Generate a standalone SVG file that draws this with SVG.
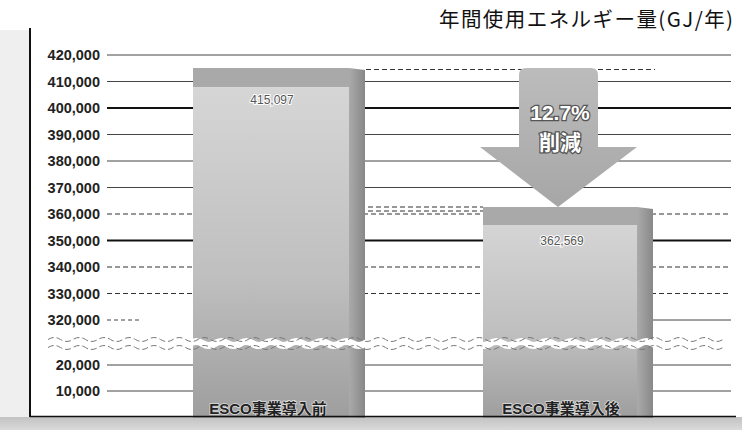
<svg xmlns="http://www.w3.org/2000/svg" xmlns:xlink="http://www.w3.org/1999/xlink" width="742" height="430" viewBox="0 0 742 430">
<style>
.tick{font-family:"Liberation Sans","Noto Sans CJK JP",sans-serif;font-size:14.5px;font-weight:bold;fill:#222;text-anchor:end}
.grid{stroke:#444;stroke-width:1;fill:none}
.major{stroke:#111;stroke-width:2;fill:none}
.dash{stroke:#333;stroke-width:1.2;stroke-dasharray:5 3;fill:none}
.title{font-family:"Noto Sans CJK JP",sans-serif;font-size:20.5px;fill:#111}
.val{font-family:"Liberation Sans",sans-serif;font-size:12px;fill:#555;text-anchor:middle;stroke:#fff;stroke-width:2;paint-order:stroke}
.cat{font-family:"Liberation Sans","Noto Sans CJK JP",sans-serif;font-size:15px;font-weight:bold;fill:#222;text-anchor:middle;stroke:#ddd;stroke-width:1.5;paint-order:stroke}
.arrowtxt{font-family:"Liberation Sans","Noto Sans CJK JP",sans-serif;font-size:21px;font-weight:bold;fill:#fff;text-anchor:middle;stroke:#555;stroke-width:2.5;paint-order:stroke}
</style>
<defs>
<linearGradient id="face" x1="0" y1="0" x2="0" y2="1">
<stop offset="0" stop-color="#d8d8d8"/>
<stop offset="0.6" stop-color="#bfbfbf"/>
<stop offset="1" stop-color="#9e9e9e"/>
</linearGradient>
<linearGradient id="side" x1="0" y1="0" x2="1" y2="0">
<stop offset="0" stop-color="#aaaaaa"/>
<stop offset="1" stop-color="#888888"/>
</linearGradient>
<linearGradient id="floor" x1="0" y1="0" x2="0" y2="1">
<stop offset="0" stop-color="#c2c2c2"/>
<stop offset="1" stop-color="#dadada"/>
</linearGradient>
<linearGradient id="arrowfill" x1="0" y1="0" x2="0" y2="1">
<stop offset="0" stop-color="#bcbcbc"/>
<stop offset="1" stop-color="#a6a6a6"/>
</linearGradient>
<path id="wave" d="M0,0 q6.25,-4 12.5,0 t12.5,0 t12.5,0 t12.5,0 t12.5,0 t12.5,0 t12.5,0 t12.5,0 t12.5,0 t12.5,0 t12.5,0 t12.5,0 t12.5,0 t12.5,0 t12.5,0 t12.5,0 t12.5,0 t12.5,0 t12.5,0 t12.5,0 t12.5,0 t12.5,0 t12.5,0 t12.5,0 t12.5,0 t12.5,0 t12.5,0 t12.5,0 t12.5,0 t12.5,0 t12.5,0 t12.5,0 t12.5,0 t12.5,0 t12.5,0 t12.5,0 t12.5,0 t12.5,0 t12.5,0 t12.5,0 t12.5,0 t12.5,0 t12.5,0 t12.5,0 t12.5,0 t12.5,0 t12.5,0 t12.5,0 t12.5,0 t12.5,0 t12.5,0 t12.5,0 t12.5,0 t12.5,0"/>
</defs>

<rect x="0" y="0" width="742" height="430" fill="#fff"/>
<rect x="0" y="30" width="29" height="400" fill="#efefef"/>
<rect x="0" y="417" width="742" height="13" fill="url(#floor)"/>

<g id="title"><text class="title" x="439" y="27" textLength="294" lengthAdjust="spacing">年間使用エネルギー量(GJ/年)</text></g>

<g id="gridlines">
<line class="grid" x1="107" y1="55" x2="731" y2="55"/>
<line class="grid" x1="107" y1="81.5" x2="731" y2="81.5"/>
<line class="major" x1="107" y1="108" x2="731" y2="108"/>
<line class="grid" x1="107" y1="134.5" x2="731" y2="134.5"/>
<line class="grid" x1="107" y1="161" x2="731" y2="161"/>
<line class="grid" x1="107" y1="187.5" x2="731" y2="187.5"/>
<line class="dash" x1="107" y1="214" x2="731" y2="214"/>
<line class="major" x1="107" y1="240.5" x2="731" y2="240.5"/>
<line class="dash" x1="107" y1="267" x2="731" y2="267"/>
<line class="dash" x1="107" y1="293.5" x2="731" y2="293.5"/>
<line class="grid" x1="107" y1="320" x2="140" y2="320" stroke-dasharray="4 3"/>
<line class="grid" x1="651" y1="320" x2="731" y2="320"/>
<line class="grid" x1="107" y1="365" x2="731" y2="365"/>
<line class="grid" x1="107" y1="391" x2="731" y2="391"/>
</g>

<g id="ticks">
<text class="tick" x="100" y="60">420,000</text>
<text class="tick" x="100" y="86.5">410,000</text>
<text class="tick" x="100" y="113">400,000</text>
<text class="tick" x="100" y="139.5">390,000</text>
<text class="tick" x="100" y="166">380,000</text>
<text class="tick" x="100" y="192.5">370,000</text>
<text class="tick" x="100" y="219">360,000</text>
<text class="tick" x="100" y="245.5">350,000</text>
<text class="tick" x="100" y="272">340,000</text>
<text class="tick" x="100" y="298.5">330,000</text>
<text class="tick" x="100" y="325">320,000</text>
<text class="tick" x="100" y="370">20,000</text>
<text class="tick" x="100" y="396">10,000</text>
</g>

<g id="bar-before">
<rect x="193" y="68" width="156" height="350" fill="url(#face)"/>
<rect x="193" y="68" width="156" height="19" fill="#a9a9a9"/>
<polygon points="349,68 365,70 365,418 349,418" fill="url(#side)"/>
<text class="val" x="272" y="104">415,097</text>
<text class="cat" x="268" y="414">ESCO事業導入前</text>
</g>

<g id="bar-after">
<rect x="483" y="207" width="154" height="211" fill="url(#face)"/>
<rect x="483" y="207" width="154" height="18" fill="#a9a9a9"/>
<polygon points="637,207 653,209 653,418 637,418" fill="url(#side)"/>
<text class="val" x="562" y="245">362,569</text>
<text class="cat" x="561" y="414">ESCO事業導入後</text>
</g>

<g id="connectors">
<line class="dash" x1="366" y1="69.5" x2="655" y2="69.5"/>
<line class="dash" x1="368" y1="207" x2="483" y2="207"/>
<line class="dash" x1="368" y1="211" x2="483" y2="211"/>
</g>

<g id="arrow">
<path d="M519,75 Q519,68 526,68 L591,68 Q598,68 598,75 L598,147 L637,147 L558,207 L480,147 L519,147 Z" fill="url(#arrowfill)"/>
<text class="arrowtxt" x="560" y="120">12.7%</text>
<text class="arrowtxt" x="560" y="150">削減</text>
</g>

<g id="break">
<use xlink:href="#wave" x="40" y="343.5" stroke="#fff" stroke-width="7" fill="none"/>
<use xlink:href="#wave" x="48" y="339.5" stroke="#777" stroke-width="1" stroke-dasharray="6 3" fill="none"/>
<use xlink:href="#wave" x="48" y="347.5" stroke="#777" stroke-width="1" stroke-dasharray="6 3" fill="none"/>
</g>

<g id="axis">
<line x1="30" y1="28" x2="30" y2="417" stroke="#111" stroke-width="2"/>
<line x1="30" y1="416.5" x2="736" y2="416.5" stroke="#111" stroke-width="1.5"/>
</g>
</svg>
